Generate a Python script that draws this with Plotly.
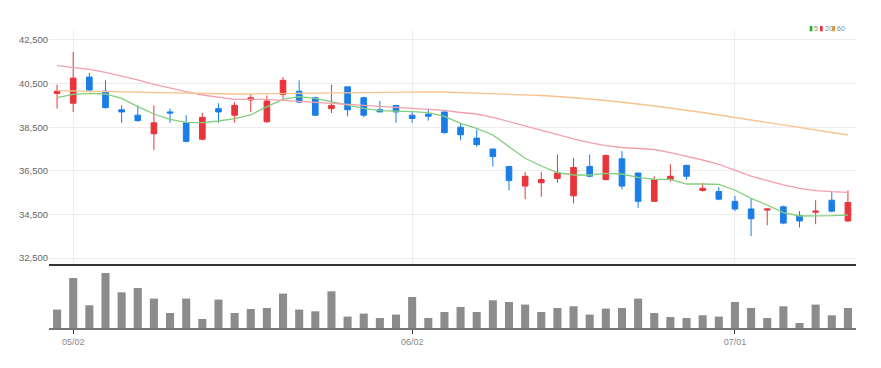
import plotly.graph_objects as go

dates = ["04/29",
         "05/02", "05/03", "05/04", "05/06", "05/09", "05/10", "05/11", "05/12", "05/13",
         "05/16", "05/17", "05/18", "05/19", "05/20", "05/23", "05/24", "05/25", "05/26",
         "05/27", "05/30", "05/31",
         "06/02", "06/03", "06/07", "06/08", "06/09", "06/10", "06/13", "06/14", "06/15",
         "06/16", "06/17", "06/20", "06/21", "06/22", "06/23", "06/24", "06/27", "06/28",
         "06/29", "06/30",
         "07/01", "07/04", "07/05", "07/06", "07/07", "07/08", "07/11", "07/12"]

opens = [40050, 39600, 40800, 40150, 39300, 39050, 38200, 39200, 38700, 37950,
         39350, 39050, 39750, 38750, 40000, 40150, 39850, 39350, 40350, 39850,
         39300, 39500, 39050, 39100, 39200, 38500, 38000, 37500, 36700, 35800,
         35950, 36150, 35350, 36700, 36100, 37050, 36400, 35100, 36100, 36750,
         35600, 35550, 35100, 34750, 34700, 34850, 34450, 34600, 35150, 34200]
highs = [40450, 41950, 41000, 40650, 39500, 39500, 39500, 39350, 39050, 39150,
         39600, 39650, 40000, 39950, 40800, 40650, 39900, 40450, 40350, 39900,
         39700, 39500, 39250, 39350, 39200, 38700, 38400, 37500, 36700, 36450,
         36450, 37250, 37100, 37250, 37250, 37400, 36400, 36250, 36800, 36750,
         35950, 35750, 35350, 35250, 34750, 34900, 34650, 35150, 35550, 35600]
lows = [39350, 39200, 40150, 39350, 38700, 38750, 37450, 38700, 37800, 37900,
        38700, 38700, 39200, 38700, 39800, 39600, 39000, 39150, 39000, 38950,
        39200, 38700, 38700, 38800, 38200, 37900, 37600, 36700, 35600, 35200,
        35300, 35950, 35000, 36200, 36050, 35650, 34800, 35100, 36000, 36100,
        35550, 35150, 34650, 33500, 34000, 34050, 33900, 34050, 34600, 34150]
closes = [40150, 40750, 40200, 39400, 39200, 38800, 38700, 39150, 37850, 38950,
          39200, 39500, 39850, 39700, 40650, 39650, 39050, 39500, 39300, 39050,
          39200, 39200, 38900, 39000, 38250, 38150, 37700, 37150, 36050, 36250,
          36100, 36400, 36650, 36250, 37200, 35800, 35100, 36100, 36250, 36250,
          35700, 35200, 34750, 34300, 34750, 34100, 34200, 34650, 34650, 35050]
volumes = [184000, 500000, 227000, 550000, 357000, 400000, 294000, 150000, 294000, 90000,
           284000, 150000, 190000, 200000, 344000, 184000, 167000, 367000, 114000, 144000,
           100000, 134000, 310000, 100000, 160000, 210000, 160000, 277000, 260000, 234000,
           160000, 200000, 217000, 134000, 194000, 200000, 294000, 150000, 110000, 100000,
           127000, 114000, 260000, 200000, 100000, 217000, 50000, 234000, 127000, 200000]
ma5 = [39853, 40009, 40055, 40023, 39825, 39440, 39105, 38862, 38725, 38706,
       38784, 38890, 39059, 39440, 39780, 39899, 39825, 39670, 39518, 39367,
       39257, 39243, 39211, 39165, 38991, 38679, 38449, 38142, 37605, 37073,
       36720, 36413, 36307, 36307, 36385, 36353, 36202, 36110, 36110, 35894,
       35894, 35881, 35619, 35238, 34931, 34578, 34427, 34427, 34440, 34472]
ma20 = [41321, 41247, 41156, 41018, 40848, 40665, 40468, 40284, 40128, 39977,
        39871, 39780, 39780, 39780, 39734, 39688, 39633, 39587, 39541, 39495,
        39449, 39413, 39381, 39335, 39275, 39174, 39105, 38954, 38752, 38555,
        38371, 38174, 37959, 37789, 37651, 37569, 37523, 37477, 37330, 37179,
        36995, 36798, 36537, 36261, 36046, 35849, 35697, 35587, 35541, 35514]
ma60 = [40174, 40160, 40146, 40128, 40114, 40091, 40069, 40055, 40046, 40036,
        40032, 40023, 40023, 40032, 40046, 40069, 40082, 40091, 40101, 40105,
        40114, 40114, 40124, 40124, 40114, 40091, 40069, 40046, 40023, 39986,
        39954, 39908, 39862, 39793, 39725, 39656, 39564, 39472, 39381, 39289,
        39174, 39059, 38945, 38830, 38715, 38578, 38463, 38348, 38234, 38142]

tick_dates = ["05/02", "06/02", "07/01"]
price_ticks = [32500, 34500, 36500, 38500, 40500, 42500]
legend_names = ["5", "20", "60"]

RED = "#e8343a"
BLUE = "#1b7ee6"
MA_COLORS = ["#82cf7c", "#f4a0ac", "#f7c48f"]
LEG_COLORS = ["#22b322", "#e8333b", "#f0962a"]
FONT = "Liberation Sans, Arial, sans-serif"

W, H = 881, 368
L, R, T, B = 49, 25, 30, 40


def px_x(p):
    return (p - L) / (W - L - R)


def px_y(p):
    return (H - B - p) / (H - T - B)


fig = go.Figure()
fig.add_trace(go.Candlestick(
    x=dates, open=opens, high=highs, low=lows, close=closes,
    increasing=dict(line=dict(color=RED, width=1), fillcolor=RED),
    decreasing=dict(line=dict(color=BLUE, width=1), fillcolor=BLUE),
    whiskerwidth=0, xaxis="x", yaxis="y", showlegend=False, hoverinfo="skip"))
for ma, col, nm in zip([ma5, ma20, ma60], MA_COLORS, legend_names):
    fig.add_trace(go.Scatter(x=dates, y=ma, mode="lines", name=nm,
                             line=dict(color=col, width=1.3),
                             xaxis="x", yaxis="y", showlegend=False, hoverinfo="skip"))
fig.add_trace(go.Bar(x=dates, y=volumes, width=0.5,
                     marker=dict(color="#8c8c8c", line=dict(width=0)),
                     xaxis="x2", yaxis="y2", showlegend=False, hoverinfo="skip"))

shapes = [dict(type="line", xref="paper", yref="paper", x0=0, x1=1,
               y0=px_y(265), y1=px_y(265), line=dict(color="#333333", width=2))]
annotations = []
leg_sq_x = [809.7, 820.0, 832.3]
leg_tx_x = [813.3, 824.0, 836.3]
for sx, tx, col, nm in zip(leg_sq_x, leg_tx_x, LEG_COLORS, legend_names):
    shapes.append(dict(type="rect", xref="paper", yref="paper",
                       x0=px_x(sx), x1=px_x(sx + 2.7), y0=px_y(31.3), y1=px_y(26),
                       fillcolor=col, line=dict(width=0)))
    annotations.append(dict(text=nm, xref="paper", yref="paper", x=px_x(tx), y=px_y(28.7),
                            xanchor="left", yanchor="middle", showarrow=False,
                            borderpad=0,
                            font=dict(family=FONT, size=7, color="#888888")))

fig.update_layout(
    width=W, height=H,
    margin=dict(l=L, r=R, t=T, b=B, autoexpand=False),
    paper_bgcolor="white", plot_bgcolor="white",
    boxgap=0.5,
    bargap=0.5,
    showlegend=False,
    xaxis=dict(domain=[0, 1], anchor="y", type="category", range=[-0.5, 49.5],
               showticklabels=False, tickvals=tick_dates, ticks="",
               showgrid=True, gridcolor="#ededed", gridwidth=1, automargin=False,
               rangeslider=dict(visible=False), zeroline=False),
    yaxis=dict(domain=[px_y(265), 1], anchor="x", range=[32179, 42958],
               tickvals=price_ticks, tickformat=",", ticks="", automargin=False,
               showgrid=True, gridcolor="#ececec", gridwidth=1, zeroline=False,
               tickfont=dict(family=FONT, size=9.5, color="#666666")),
    xaxis2=dict(domain=[0, 1], anchor="y2", type="category", range=[-0.5, 49.5],
                tickvals=tick_dates, ticks="outside", ticklen=4, tickcolor="#333333",
                showline=True, linecolor="#777777", linewidth=2, automargin=False,
                showgrid=False, zeroline=False,
                tickfont=dict(family=FONT, size=9, color="#888888")),
    yaxis2=dict(domain=[0, px_y(267)], anchor="x2", range=[0, 610000], automargin=False,
                showticklabels=False, showgrid=False, zeroline=False),
    shapes=shapes,
    annotations=annotations,
)

fig.write_html("out.html", config={"displayModeBar": False},
               post_script="document.body.style.margin='0';document.body.style.padding='0';")
